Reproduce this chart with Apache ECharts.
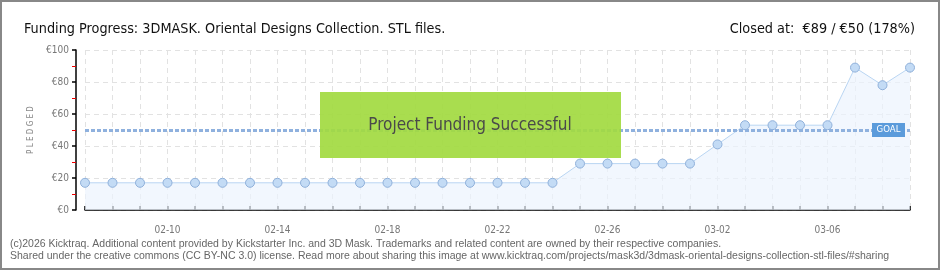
<!DOCTYPE html>
<html><head><meta charset="utf-8">
<script src="https://cdn.jsdelivr.net/npm/echarts@6/dist/echarts.min.js"></script>
<style>html,body{margin:0;padding:0;background:#fff}#c{width:940px;height:270px}</style>
</head><body><div id="c"></div>
<script>
const dates = ['02-07','02-08','02-09','02-10','02-11','02-12','02-13','02-14','02-15','02-16','02-17','02-18','02-19','02-20','02-21','02-22','02-23','02-24','02-25','02-26','02-27','02-28','03-01','03-02','03-03','03-04','03-05','03-06','03-07','03-08','03-09'];
const pledged = [17,17,17,17,17,17,17,17,17,17,17,17,17,17,17,17,17,17,29,29,29,29,29,41,53,53,53,53,89,78,89];
const goal = 50;
const yTicks = [0,20,40,60,80,100];
const titleText = 'Funding Progress: 3DMASK. Oriental Designs Collection. STL files.';
const closedText = 'Closed at:  €89 / €50 (178%)';
const bannerText = 'Project Funding Successful';
const footer1 = '(c)2026 Kicktraq. Additional content provided by Kickstarter Inc. and 3D Mask. Trademarks and related content are owned by their respective companies.';
const footer2 = 'Shared under the creative commons (CC BY-NC 3.0) license. Read more about sharing this image at www.kicktraq.com/projects/mask3d/3dmask-oriental-designs-collection-stl-files/#sharing';

const chart = echarts.init(document.getElementById('c'), null, {renderer:'canvas'});
const cond = '"DejaVu Sans Condensed", "DejaVu Sans", sans-serif';
chart.setOption({
  animation:false,
  grid:{left:85,right:30,top:50,bottom:60},
  title:[
    {text:titleText,left:19,top:17,textStyle:{fontFamily:cond,fontSize:14.3,fontWeight:'normal',color:'#111'}},
    {text:closedText,right:20,top:17,textStyle:{fontFamily:cond,fontSize:14.3,fontWeight:'normal',color:'#111'}}
  ],
  xAxis:{
    type:'category',data:dates,boundaryGap:false,offset:10,
    axisLine:{lineStyle:{color:'#000',width:1.5}},
    axisTick:{show:true,interval:0,length:4,inside:true,lineStyle:{color:'#000',width:1.5}},
    axisLabel:{interval:(i)=>(i-3)%4===0,color:'#777',fontSize:10,fontFamily:cond,margin:5},
    splitLine:{show:true,interval:0,lineStyle:{color:'#e2e2e2',type:[5,4]}}
  },
  yAxis:{
    type:'value',min:0,max:100,interval:20,offset:9,
    name:'P L E D G E D',nameLocation:'middle',nameGap:30,nameRotate:90,
    nameTextStyle:{color:'#888',fontSize:8,fontFamily:cond},
    axisLine:{show:true,lineStyle:{color:'#000',width:1.5}},
    axisTick:{show:true,length:4,lineStyle:{color:'#000',width:1.5}},
    minorTick:{show:true,splitNumber:2,length:4,lineStyle:{color:'#e00',width:1}},
    axisLabel:{formatter:(v)=>'€'+v,color:'#777',fontSize:10,fontFamily:cond,margin:7},
    splitLine:{show:true,lineStyle:{color:'#e2e2e2',type:[5,4]}}
  },
  series:[{
    type:'line',data:pledged,symbol:'circle',symbolSize:9,
    itemStyle:{color:'#c3dbf5',borderColor:'#8fb0da',borderWidth:1},
    lineStyle:{color:'#b9d5f2',width:1},
    areaStyle:{color:'#edf4fd'},
    z:3,
    markLine:{silent:true,symbol:'none',
      lineStyle:{color:'#8fb1de',width:3,type:[4,2]},
      label:{show:false},
      data:[{yAxis:goal}]},
    markPoint:{silent:true,symbol:'rect',symbolSize:[33,14],symbolOffset:[6,0],
      itemStyle:{color:'#5b9bdb',borderWidth:0},
      label:{show:true,formatter:'GOAL',color:'#fff',fontSize:9.5,fontFamily:cond},
      data:[{coord:['03-08',goal]}]}
  }],
  graphic:[
    {type:'rect',shape:{x:320,y:92,width:301,height:66},style:{fill:'rgba(162,218,64,0.92)'},z:50},
    {type:'text',x:470,y:126,style:{text:bannerText,fill:'#4a4a4a',font:'17px '+cond,align:'center',verticalAlign:'middle',textShadowColor:'#fff',textShadowOffsetX:1,textShadowOffsetY:1,textShadowBlur:0},z:51},
    {type:'text',x:10,y:244,style:{text:footer1,fill:'#666',font:'10.5px "Liberation Sans", sans-serif',verticalAlign:'middle'},z:50},
    {type:'text',x:10,y:256,style:{text:footer2,fill:'#666',font:'10.5px "Liberation Sans", sans-serif',verticalAlign:'middle'},z:50},
    {type:'rect',shape:{x:1,y:1,width:938,height:268},style:{fill:'none',stroke:'#888',lineWidth:2},z:60}
  ]
});
</script></body></html>
